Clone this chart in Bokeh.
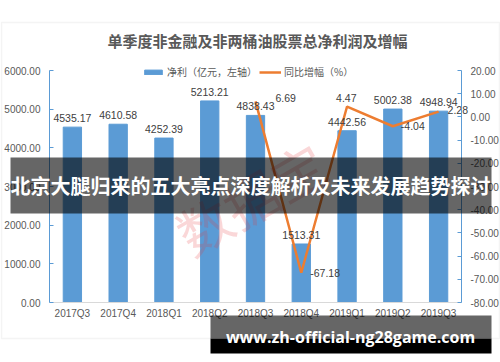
from bokeh.plotting import figure
from bokeh.models import (Range1d, LinearAxis, SingleIntervalTicker, FixedTicker,
                          NumeralTickFormatter, ColumnDataSource, Label, BoxAnnotation,
                          Legend, LegendItem)
from bokeh.embed import file_html
from bokeh.resources import INLINE
from bokeh.core.properties import value

# ---------------- data ----------------
quarters = ["2017Q3", "2017Q4", "2018Q1", "2018Q2", "2018Q3",
            "2018Q4", "2019Q1", "2019Q2", "2019Q3"]
net_profit = [4535.17, 4610.58, 4252.39, 5213.21, 4838.43,
              1513.31, 4442.56, 5002.38, 4948.94]
growth_quarters = ["2018Q3", "2018Q4", "2019Q1", "2019Q2", "2019Q3"]
growth_pct = [6.69, -67.18, 4.47, -4.04, 2.28]
left_axis_range = (0, 6000)
right_axis_range = (-80, 20)

title_text = "单季度非金融及非两桶油股票总净利润及增幅"
legend_labels = ["净利（亿元，左轴）", "同比增幅（%）"]
banner_text = "北京大腿归来的五大亮点深度解析及未来发展趋势探讨"
url_text = "www.zh-official-ng28game.com"
watermark_text = "数据宝"

# ---------------- layout (reference pixels) ----------------
W, H = 500, 362          # canvas (Bokeh page template has no body margin)
OX, OY = 0, 0            # canvas origin in reference pixels
PL, PR, PT, PB = 49, 461, 70, 302   # plot area in reference pixels
CJK = "Noto Sans CJK SC"
NUM = "Liberation Sans"

n = len(quarters)
cat_w = (PR - PL) / n
x0 = -0.5 - (PL - OX) / cat_w
x1 = (n - 0.5) + (OX + W - PR) / cat_w

lo, hi = left_axis_range
ppu = (PB - PT) / (hi - lo)
y0 = lo - (OY + H - PB) / ppu
y1 = hi + (PT - OY) / ppu

rlo, rhi = right_axis_range
rppu = (PB - PT) / (rhi - rlo)
r0 = rlo - (OY + H - PB) / rppu
r1 = rhi + (PT - OY) / rppu


def sx(px):  # reference pixel x -> screen x in frame
    return px - OX


def sy(py):  # reference pixel y -> screen y in frame (from bottom)
    return H - (py - OY)


p = figure(width=W, height=H, x_range=Range1d(x0, x1), y_range=Range1d(y0, y1),
           x_axis_type=None, y_axis_type=None, output_backend="svg",
           toolbar_location=None, min_border=0)
p.extra_y_ranges = {"pct": Range1d(r0, r1)}
p.outline_line_color = None
p.background_fill_color = "white"
p.border_fill_color = "white"

x_idx = list(range(n))
growth_idx = [quarters.index(q) for q in growth_quarters]

left = LinearAxis(fixed_location=-0.5, bounds=left_axis_range,
                  ticker=SingleIntervalTicker(interval=1000),
                  formatter=NumeralTickFormatter(format="0.00"))
right = LinearAxis(y_range_name="pct", fixed_location=n - 0.5, bounds=right_axis_range,
                   ticker=SingleIntervalTicker(interval=10),
                   formatter=NumeralTickFormatter(format="0.00"))
bottom = LinearAxis(fixed_location=0, bounds=(-0.5, n - 0.5),
                    ticker=FixedTicker(ticks=x_idx),
                    major_label_overrides={i: q for i, q in enumerate(quarters)})

for ax in (left, right):
    ax.axis_line_color = "#5B9BD5"
    ax.major_tick_line_color = "#5B9BD5"
    ax.major_tick_in = 4
    ax.major_tick_out = 0
    ax.minor_tick_line_color = None
    ax.major_label_text_font = NUM
    ax.major_label_text_font_size = "10px"
    ax.major_label_text_color = "#595959"
    ax.major_label_standoff = 5

bottom.axis_line_color = "#D9D9D9"
bottom.major_tick_line_color = None
bottom.major_tick_in = 0
bottom.major_tick_out = 0
bottom.minor_tick_line_color = None
bottom.major_label_text_font = NUM
bottom.major_label_text_font_size = "10px"
bottom.major_label_text_color = "#595959"
bottom.major_label_standoff = 5

p.add_layout(left, "left")
p.add_layout(right, "right")
p.add_layout(bottom, "below")

# outer chart border
p.add_layout(BoxAnnotation(left=sx(1), right=sx(499), top=sy(22), bottom=sy(338),
                           left_units="screen", right_units="screen",
                           top_units="screen", bottom_units="screen",
                           fill_alpha=0, line_color="#D9D9D9", line_width=1.5,
                           level="underlay"))

bars = p.vbar(x=x_idx, top=net_profit, width=0.4, color="#5B9BD5")
line = p.line(x=growth_idx, y=growth_pct, y_range_name="pct",
              line_color="#ED7D31", line_width=2.5)

# bar value labels
p.text(x=x_idx, y=net_profit, text=[f"{v:.2f}" for v in net_profit],
       text_align="center", text_baseline="bottom", y_offset=-5,
       text_font=value(NUM), text_font_size="10.5px", text_color="#404040")

# growth value labels
lab_src = ColumnDataSource(dict(x=growth_idx, y=growth_pct,
                                text=[f"{v:.2f}" for v in growth_pct],
                                xo=[20, 9, -11, 8, 9], yo=[-3.5, 0, -9, 0, -2]))
p.text(x="x", y="y", text="text", x_offset="xo", y_offset="yo", source=lab_src,
       y_range_name="pct", text_align="left", text_baseline="middle",
       text_font=value(NUM), text_font_size="10.5px", text_color="#404040")

# legend
legend = Legend(items=[LegendItem(label=legend_labels[0], renderers=[bars]),
                       LegendItem(label=legend_labels[1], renderers=[line])],
                orientation="horizontal", location=(sx(142), sy(79)),
                glyph_width=22, glyph_height=6, label_height=12, label_standoff=3,
                spacing=2, padding=0, margin=0, border_line_color=None,
                background_fill_alpha=0, label_text_font=CJK,
                label_text_font_size="10px", label_text_color="#595959")
p.add_layout(legend, "center")

# title
p.add_layout(Label(x=sx(257), y=sy(40), x_units="screen", y_units="screen",
                   text=title_text, text_align="center", text_baseline="middle",
                   text_font=CJK, text_font_style="bold", text_font_size="15px",
                   text_color="#595959"))

# watermark
p.add_layout(Label(x=sx(250), y=sy(197), x_units="screen", y_units="screen",
                   text=watermark_text, text_align="center", text_baseline="middle",
                   angle=30, angle_units="deg", text_font=CJK, text_font_size="54px",
                   text_color="#E8363B", text_alpha=0.2))

# dark banner
p.add_layout(BoxAnnotation(left=sx(10), right=sx(491), top=sy(157), bottom=sy(213),
                           left_units="screen", right_units="screen",
                           top_units="screen", bottom_units="screen",
                           fill_color="black", fill_alpha=0.6, line_color=None))
p.add_layout(Label(x=sx(250), y=sy(185), x_units="screen", y_units="screen",
                   text=banner_text, text_align="center", text_baseline="middle",
                   text_font=CJK, text_font_style="bold", text_font_size="20px",
                   text_color="white"))

# url box
p.add_layout(BoxAnnotation(left=sx(210), right=sx(491), top=sy(315), bottom=sy(338),
                           left_units="screen", right_units="screen",
                           top_units="screen", bottom_units="screen",
                           fill_color="black", fill_alpha=0.6, line_color=None))
p.add_layout(BoxAnnotation(left=sx(210), right=sx(491), top=sy(338), bottom=sy(353),
                           left_units="screen", right_units="screen",
                           top_units="screen", bottom_units="screen",
                           fill_color="black", fill_alpha=1.0, line_color=None))
p.add_layout(Label(x=sx(350), y=sy(336), x_units="screen", y_units="screen",
                   text=url_text, text_align="center", text_baseline="middle",
                   text_font="Open Sans", text_font_style="bold", text_font_size="16px",
                   text_color="white"))

open("out.html", "w").write(file_html(p, INLINE))
